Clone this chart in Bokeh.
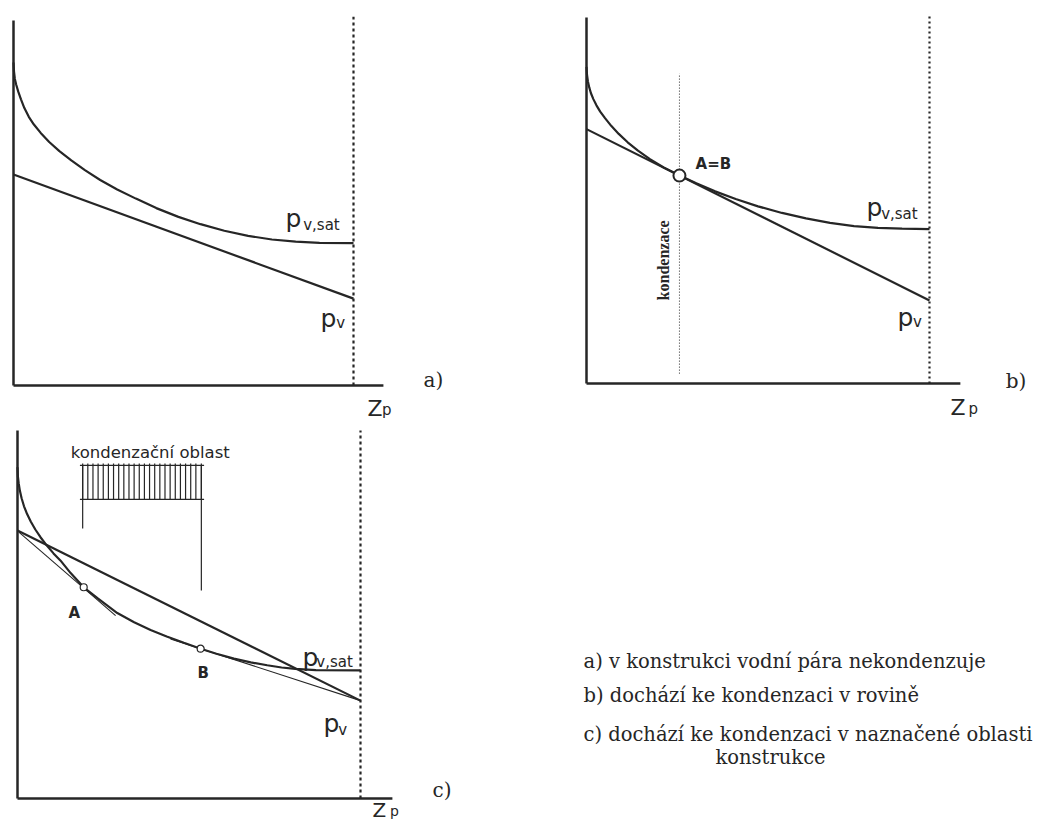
from bokeh.plotting import figure
from bokeh.layouts import row, column
from bokeh.models import Range1d
from bokeh.core.properties import value
from bokeh.embed import file_html
from bokeh.resources import INLINE

INK = "#262626"

# ---------------- data (Z = relative position in wall 0..100, p = relative pressure 0..100)
# panel a) : no condensation
a_z_sat = [0, 0.15, 0.4, 0.8, 1.4, 2.2, 3.2, 4.5, 6.0, 8.0, 10.5, 13.5, 17, 21, 25.5,
           30.5, 36, 42, 48.5, 55, 62, 69, 76, 83, 90, 100]
a_p_sat = [88.5, 86.0, 84.0, 82.4, 80.5, 78.4, 76.0, 73.6, 71.5, 69.2, 66.7, 64.2, 61.7,
           59.0, 56.3, 53.7, 51.2, 48.6, 46.2, 44.2, 42.4, 41.0, 40.0, 39.4, 39.1, 39.0]
a_z_v = [0, 100]
a_p_v = [57.8, 23.8]

# panel b) : condensation in a plane
b_z_sat = [0, 0.15, 0.4, 0.8, 1.3, 2.0, 2.9, 4.0, 5.4, 7.2, 9.4, 12, 15, 18.5, 22.5, 27,
           32, 37.5, 43.5, 50, 57, 64, 71, 78, 85, 92, 100]
b_p_sat = [86.5, 84.3, 82.6, 80.9, 79.3, 77.7, 76.0, 74.3, 72.5, 70.4, 68.2, 65.9, 63.6,
           61.3, 59.0, 56.9, 54.7, 52.5, 50.4, 48.4, 46.6, 45.1, 43.9, 43.0, 42.5, 42.3, 42.2]
b_z_v = [0, 100]
b_p_v = [69.5, 22.7]
b_point = (27.1, 56.8)          # A=B
b_plane_z = 27.1                # condensation plane
b_plane_p = [2.7, 84.7]

# panel c) : condensation zone
c_z_sat = [0, 0.12, 0.35, 0.7, 1.2, 1.9, 2.8, 3.9, 5.2, 6.7, 8.5, 10.5, 12.5, 15.5, 19.3,
           23.5, 29.1, 34, 38.8, 43.5, 48.5, 53.4, 58, 63.1, 68, 72.8, 77, 81, 87, 100]
c_p_sat = [90.0, 87.5, 85.6, 83.6, 81.6, 79.4, 77.3, 75.2, 73.1, 71.0, 68.8, 66.6, 64.7,
           61.25, 57.4, 54.3, 50.4, 47.9, 45.8, 44.0, 42.3, 40.7, 39.35, 38.0, 37.0, 36.2,
           35.6, 35.2, 34.9, 34.8]
c_z_v = [0, 100]
c_p_v = [72.8, 26.6]
c_tan1_z = [0.4, 28.6]
c_tan1_p = [72.4, 49.7]
c_tan2_z = [44.6, 100]
c_tan2_p = [43.36, 26.6]
c_pts_z = [19.3, 53.4]           # A, B
c_pts_p = [57.4, 40.7]
c_pts_lbl = ["A", "B"]
c_zone = (19.0, 53.6)            # condensation zone limits
c_hatch_z = [19.0, 20.5, 22.0, 23.5, 25.0, 26.5, 28.0, 29.5, 31.0, 32.5, 34.0, 35.5,
             37.0, 38.5, 40.0, 41.5, 43.0, 44.5, 46.0, 47.5, 49.0, 50.5, 52.0, 53.6]

notes = ["a) v konstrukci vodní pára nekondenzuje",
         "b) dochází ke kondenzaci v rovině",
         "c) dochází ke kondenzaci v naznačené oblasti",
         "konstrukce"]

SANS = value("DejaVu Sans")
SERIF = value("DejaVu Serif")


def make_panel(fig_left, fig_top, w, h, x0, x100, y0, y100):
    """figure whose data (0..100, 0..100) maps the panel axes onto the page"""
    sx = (x100 - x0) / 100.0
    sy = (y0 - y100) / 100.0
    xr = Range1d((fig_left - x0) / sx, (fig_left + w - x0) / sx)
    yr = Range1d((y0 - (fig_top + h)) / sy, (y0 - fig_top) / sy)
    p = figure(width=w, height=h, x_range=xr, y_range=yr, output_backend="svg",
               toolbar_location=None, x_axis_location=None, y_axis_location=None,
               min_border=0, tools="")
    p.grid.visible = False
    p.outline_line_color = None
    p.background_fill_color = "white"
    p.border_fill_color = "white"
    return p


def axes(p, xend, dtop, dash="3 3"):
    p.line([0, 0], [0, 100], line_color=INK, line_width=2.5)
    p.line([0, xend], [0, 0], line_color=INK, line_width=2.5)
    p.line([100, 100], [0, dtop], line_color=INK, line_width=2.2, line_dash=dash)


def txt(p, x, y, s, size, font=SANS, style="normal", align="left", angle=0.0):
    p.text(x=[x], y=[y], text=[s], text_font=font, text_font_size=size,
           text_font_style=style, text_color=INK, text_align=align,
           text_baseline="alphabetic", angle=angle)


def sublabel(p, x, y, main, sub, xs, ys, msize="25px", ssize="15px"):
    txt(p, x, y, main, msize)
    txt(p, xs, ys, sub, ssize)


# ---------------- panel a
fa = make_panel(0, 0, 540, 428, 13, 353, 385, 20)
axes(fa, 108.8, 101)
fa.line(a_z_sat, a_p_sat, line_color=INK, line_width=2.2)
fa.line(a_z_v, a_p_v, line_color=INK, line_width=2.2)
sublabel(fa, 80.0, 45.8, "p", "v,sat", 85.2, 44.1)
sublabel(fa, 90.3, 18.4, "p", "v", 94.9, 17.0)
sublabel(fa, 104.1, -6.3, "Z", "p", 108.4, -6.8, msize="22px")
txt(fa, 120.6, 1.4, "a)", "20px", font=SERIF)

# ---------------- panel b
fb = make_panel(540, 0, 496, 428, 586, 929, 383, 17)
axes(fb, 109.0, 101, dash="2 3")
fb.line([b_plane_z, b_plane_z], b_plane_p, line_color=INK, line_width=1, line_dash="1 2")
fb.line(b_z_sat, b_p_sat, line_color=INK, line_width=2.2)
fb.line(b_z_v, b_p_v, line_color=INK, line_width=2.2)
fb.scatter([b_point[0]], [b_point[1]], marker="circle", size=12, fill_color="white",
           line_color=INK, line_width=2)
txt(fb, 31.8, 60.1, "A=B", "15px", style="bold")
txt(fb, 22.4, 22.7, "kondenzace", "16px", font=value("Liberation Serif"), style="bold",
    angle=1.5708)
sublabel(fb, 81.6, 48.1, "p", "v,sat", 85.9, 46.4)
sublabel(fb, 90.7, 18.0, "p", "v", 95.2, 16.7)
sublabel(fb, 106.1, -6.6, "Z", "p", 111.4, -7.1, msize="22px")
txt(fb, 122.2, 0.8, "b)", "20px", font=SERIF)

# ---------------- panel c
fc = make_panel(0, 428, 540, 396, 17, 360, 798, 430)
axes(fc, 109.3, 100)
# condensation zone marker
fc.line([c_zone[0] - 0.8, c_zone[1] + 0.8], [90.5, 90.5], line_color=INK, line_width=1.3)
fc.line([c_zone[0] - 0.8, c_zone[1] + 0.8], [81.3, 81.3], line_color=INK, line_width=1.3)
fc.segment(x0=c_hatch_z, y0=[81.3] * len(c_hatch_z), x1=c_hatch_z, y1=[91.0] * len(c_hatch_z),
           line_color=INK, line_width=1.2)
fc.line([c_zone[0], c_zone[0]], [90.5, 73.4], line_color=INK, line_width=1.2)
fc.line([c_zone[1], c_zone[1]], [90.5, 56.5], line_color=INK, line_width=1.2)
txt(fc, 15.5, 94.0, "kondenzační oblast", "16.5px")
# curves
fc.line(c_tan1_z, c_tan1_p, line_color=INK, line_width=1.1)
fc.line(c_tan2_z, c_tan2_p, line_color=INK, line_width=1.1)
fc.line(c_z_sat, c_p_sat, line_color=INK, line_width=2.2)
fc.line(c_z_v, c_p_v, line_color=INK, line_width=2.2)
fc.scatter(c_pts_z, c_pts_p, marker="circle", size=7, fill_color="white",
           line_color=INK, line_width=1.2)
txt(fc, 14.9, 50.5, c_pts_lbl[0], "15px", style="bold")
txt(fc, 52.5, 34.2, c_pts_lbl[1], "15px", style="bold")
sublabel(fc, 83.1, 38.3, "p", "v,sat", 87.1, 37.0)
sublabel(fc, 89.2, 20.4, "p", "v", 93.5, 18.5)
sublabel(fc, 103.5, -3.0, "Z", "p", 108.6, -3.3, msize="20px", ssize="14px")
txt(fc, 121.0, 2.4, "c)", "20px", font=SERIF)

# ---------------- notes
ft = figure(width=496, height=396, x_range=Range1d(540, 1036), y_range=Range1d(824, 428),
            output_backend="svg", toolbar_location=None, x_axis_location=None,
            y_axis_location=None, min_border=0, tools="")
ft.grid.visible = False
ft.outline_line_color = None
ft.text(x=[583, 583, 583, 715], y=[661, 695, 734, 757], text=notes,
        text_font=SERIF, text_font_size="19.5px", text_color=INK,
        text_align="left", text_baseline="alphabetic")

layout = row(column(fa, fc), column(fb, ft))
open("out.html", "w").write(file_html(layout, INLINE))
